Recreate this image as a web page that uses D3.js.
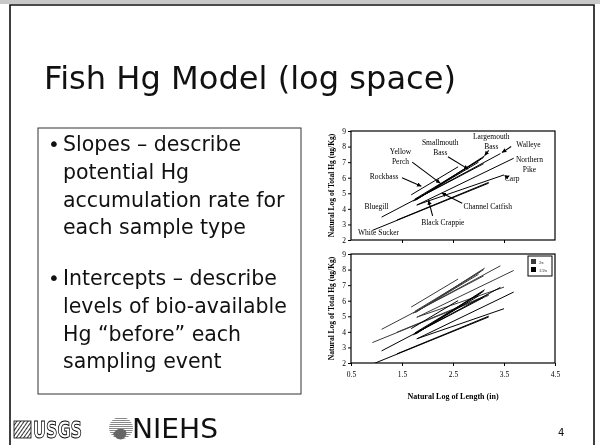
<!DOCTYPE html>
<html>
<head>
<meta charset="utf-8">
<script src="https://cdn.jsdelivr.net/npm/d3@7"></script>
<style>
  body { margin: 0; background: #fff; }
  #slide { filter: grayscale(1); }
  svg text { font-family: "DejaVu Sans", Verdana, sans-serif; }
  .chart text { font-family: "Liberation Serif", "Times New Roman", serif; }
</style>
</head>
<body>
<svg id="slide" width="600" height="445"></svg>
<script>
"use strict";

// ---- data ----
// regression lines per species, natural log space: ln(length) -> ln(Hg)
const species = ["White Sucker", "Carp", "Bluegill", "Rockbass", "Yellow Perch", "Smallmouth Bass",
  "Largemouth Bass", "Black Crappie", "Walleye", "Northern Pike", "Channel Catfish"];
const lineX0 = [0.92, 1.40, 1.10, 1.68, 1.75, 1.78, 1.76, 1.72, 1.76, 1.79, 1.79];
const lineY0 = [2.62, 3.28, 3.47, 4.90, 4.62, 4.58, 4.55, 4.50, 4.60, 4.24, 4.25];
const lineX1 = [3.20, 3.20, 3.10, 2.60, 3.10, 3.05, 3.12, 3.00, 3.43, 3.69, 3.50];
const lineY1 = [5.65, 5.70, 6.90, 6.70, 7.30, 7.20, 7.40, 7.00, 7.55, 7.25, 6.18];

// labels in the upper chart (first-line baseline, data coords)
const labelText = [["White Sucker"], ["Bluegill"], ["Rockbass"], ["Yellow", "Perch"], ["Smallmouth", "Bass"],
  ["Largemouth", "Bass"], ["Walleye"], ["Northern", "Pike"], ["Carp"], ["Channel Catfish"], ["Black Crappie"]];
const labelX = [1.04, 1.00, 1.15, 1.47, 2.25, 3.25, 3.98, 4.00, 3.66, 3.18, 2.30];
const labelY = [2.30, 4.00, 5.90, 7.50, 8.13, 8.50, 8.00, 7.00, 5.80, 3.97, 2.95];
// leader lines [x0, y0, x1, y1], null where the label has none
const leaders = [null, null, [1.50, 6.00, 1.88, 5.45], [1.70, 7.00, 2.25, 5.65], [2.40, 7.35, 2.80, 6.55],
  [3.20, 7.75, 3.12, 7.42], [3.64, 8.00, 3.46, 7.62], null, [3.58, 6.00, 3.51, 6.14],
  [2.68, 4.36, 2.28, 5.02], [2.10, 3.55, 2.02, 4.55]];

// lower chart: every line at 2x and 1/2x concentration
const legendLabels = ["2x", "1/2x"];
const legendColors = ["#3a3a3a", "#000"];
const shifts = [Math.LN2, -Math.LN2];

const xTicks = [0.5, 1.5, 2.5, 3.5, 4.5];
const yTicks = [2, 3, 4, 5, 6, 7, 8, 9];

const titleText = "Fish Hg Model (log space)";
const bullets = [
  ["Slopes \u2013 describe", "potential Hg", "accumulation rate for", "each sample type"],
  ["Intercepts \u2013 describe", "levels of bio-available", "Hg \u201cbefore\u201d each", "sampling event"]
];

// ---- slide ----
const svg = d3.select("#slide");

svg.append("rect").attr("width", 600).attr("height", 4).attr("fill", "#c8c8c8");
svg.append("path")
  .attr("d", "M10,460V5H594V460")
  .attr("fill", "none").attr("stroke", "#111").attr("stroke-width", 1.6);

svg.append("text")
  .attr("x", 44).attr("y", 89)
  .attr("font-size", 32)
  .attr("textLength", 412).attr("lengthAdjust", "spacingAndGlyphs")
  .attr("fill", "#111")
  .text(titleText);

// bullet box
svg.append("rect")
  .attr("x", 38).attr("y", 128).attr("width", 263).attr("height", 266)
  .attr("fill", "none").attr("stroke", "#333").attr("stroke-width", 1);

const bulletTop = [151, 285],
  lineGap = 27.8;
bullets.forEach((lines, b) => {
  svg.append("text").attr("x", 48).attr("y", bulletTop[b])
    .attr("font-size", 20).attr("fill", "#111").text("\u2022");
  lines.forEach((t, i) => {
    svg.append("text")
      .attr("x", 63).attr("y", bulletTop[b] + i * lineGap)
      .attr("font-size", 20.5).attr("fill", "#111")
      .text(t);
  });
});

// ---- charts ----
const plot = { left: 351, width: 204, height: 109 };
const x = d3.scaleLinear().domain([0.5, 4.5]).range([plot.left, plot.left + plot.width]);
const yTop = d3.scaleLinear().domain([2, 9]).range([240, 240 - plot.height]);
const yBot = d3.scaleLinear().domain([2, 9]).range([363, 363 - plot.height]);

const defs = svg.append("defs");
defs.append("marker")
  .attr("id", "arrow")
  .attr("viewBox", "0 0 6 6").attr("refX", 6).attr("refY", 3)
  .attr("markerWidth", 4).attr("markerHeight", 4)
  .attr("orient", "auto")
  .append("path").attr("d", "M0,0L6,3L0,6Z").attr("fill", "#000");

const chart = svg.append("g").attr("class", "chart");

function frame(y, id, xLabels) {
  const g = chart.append("g");
  g.append("clipPath").attr("id", id)
    .append("rect")
    .attr("x", x.range()[0]).attr("y", y.range()[1])
    .attr("width", plot.width).attr("height", plot.height);

  g.append("g")
    .attr("transform", "translate(" + x.range()[0] + ",0)")
    .call(d3.axisLeft(y).tickValues(yTicks).tickFormat(d3.format("d"))
      .tickSize(3).tickPadding(2).tickSizeOuter(0))
    .call(a => a.select(".domain").remove())
    .call(a => a.selectAll("text").attr("font-size", 7.5).attr("font-family", "Liberation Serif"));

  g.append("g")
    .attr("transform", "translate(0," + y.range()[0] + ")")
    .call(d3.axisBottom(x).tickValues(xLabels ? xTicks : xTicks.slice(1, 4))
      .tickSize(3).tickPadding(6).tickSizeOuter(0)
      .tickFormat(xLabels ? d3.format(".1f") : ""))
    .call(a => a.select(".domain").remove())
    .call(a => a.selectAll("text").attr("font-size", 7.5).attr("font-family", "Liberation Serif"));

  g.append("rect")
    .attr("x", x.range()[0]).attr("y", y.range()[1])
    .attr("width", plot.width).attr("height", plot.height)
    .attr("fill", "none").attr("stroke", "#000").attr("stroke-width", 1.2);

  g.append("text")
    .attr("transform", "translate(334," + (y.range()[0] + y.range()[1]) / 2 + ") rotate(-90)")
    .attr("text-anchor", "middle")
    .attr("font-size", 7.5).attr("font-weight", "bold")
    .text("Natural Log of Total Hg (ug/Kg)");
  return g;
}

// upper chart
const gTop = frame(yTop, "clip-top", false);
gTop.append("g").attr("clip-path", "url(#clip-top)")
  .selectAll("line").data(species).enter().append("line")
  .attr("x1", (d, i) => x(lineX0[i])).attr("y1", (d, i) => yTop(lineY0[i]))
  .attr("x2", (d, i) => x(lineX1[i])).attr("y2", (d, i) => yTop(lineY1[i]))
  .attr("stroke", "#000").attr("stroke-width", 1);

labelText.forEach((lines, i) => {
  const t = gTop.append("text")
    .attr("x", x(labelX[i])).attr("y", yTop(labelY[i]))
    .attr("text-anchor", "middle").attr("font-size", 7.5).attr("fill", "#000");
  lines.forEach((s, k) => {
    t.append("tspan").attr("x", x(labelX[i])).attr("dy", k ? 10 : 0).text(s);
  });
  const L = leaders[i];
  if (L) {
    gTop.append("line")
      .attr("x1", x(L[0])).attr("y1", yTop(L[1]))
      .attr("x2", x(L[2])).attr("y2", yTop(L[3]))
      .attr("stroke", "#000").attr("stroke-width", 1.1)
      .attr("marker-end", "url(#arrow)");
  }
});

// lower chart
const gBot = frame(yBot, "clip-bot", true);
shifts.forEach((s, k) => {
  gBot.append("g").attr("clip-path", "url(#clip-bot)")
    .selectAll("line").data(species).enter().append("line")
    .attr("x1", (d, i) => x(lineX0[i])).attr("y1", (d, i) => yBot(lineY0[i] + s))
    .attr("x2", (d, i) => x(lineX1[i])).attr("y2", (d, i) => yBot(lineY1[i] + s))
    .attr("stroke", legendColors[k]).attr("stroke-width", 1);
});

const leg = gBot.append("g")
  .attr("transform", "translate(" + (x.range()[1] - 27) + "," + (yBot.range()[1] + 2) + ")");
leg.append("rect").attr("width", 24).attr("height", 20)
  .attr("fill", "#fff").attr("stroke", "#000").attr("stroke-width", 1);
legendLabels.forEach((l, k) => {
  leg.append("rect").attr("x", 3).attr("y", 3 + k * 8).attr("width", 5).attr("height", 5)
    .attr("fill", legendColors[k]);
  leg.append("text").attr("x", 11).attr("y", 7.5 + k * 8)
    .attr("font-size", 4.5).attr("font-family", "Liberation Sans").text(l);
});

gBot.append("text")
  .attr("x", (x.range()[0] + x.range()[1]) / 2).attr("y", 399)
  .attr("text-anchor", "middle")
  .attr("font-size", 8).attr("font-weight", "bold")
  .text("Natural Log of Length (in)");

// ---- footer logos ----
const hatch = defs.append("pattern")
  .attr("id", "hatch").attr("width", 3).attr("height", 3)
  .attr("patternUnits", "userSpaceOnUse").attr("patternTransform", "rotate(35)");
hatch.append("rect").attr("width", 3).attr("height", 3).attr("fill", "#fff");
hatch.append("line").attr("x1", 0).attr("y1", 0).attr("x2", 0).attr("y2", 3)
  .attr("stroke", "#000").attr("stroke-width", 1.6);

const hatchH = defs.append("pattern")
  .attr("id", "hatchH").attr("width", 2).attr("height", 2)
  .attr("patternUnits", "userSpaceOnUse");
hatchH.append("rect").attr("width", 2).attr("height", 2).attr("fill", "#fff");
hatchH.append("rect").attr("width", 2).attr("height", 1).attr("fill", "#888");

svg.append("rect").attr("x", 14).attr("y", 421).attr("width", 17).attr("height", 17)
  .attr("fill", "url(#hatch)").attr("stroke", "#000").attr("stroke-width", 0.8);
svg.append("text").attr("x", 33).attr("y", 438)
  .attr("font-size", 23).attr("font-weight", "bold")
  .attr("textLength", 49).attr("lengthAdjust", "spacingAndGlyphs")
  .attr("fill", "#fff").attr("stroke", "#000").attr("stroke-width", 1)
  .text("USGS");

svg.append("ellipse").attr("cx", 121).attr("cy", 428).attr("rx", 12).attr("ry", 11)
  .attr("fill", "url(#hatchH)");
svg.append("path").attr("d", "M113,434 q5,-8 12,-4 q4,4 -2,9 q-6,2 -10,-5z").attr("fill", "#666");
svg.append("text").attr("x", 132).attr("y", 438)
  .attr("font-family", "Liberation Serif").attr("font-size", 27)
  .attr("textLength", 86).attr("lengthAdjust", "spacingAndGlyphs")
  .attr("fill", "#111").text("NIEHS");

svg.append("text").attr("x", 558).attr("y", 436)
  .attr("font-size", 10).attr("fill", "#111").text("4");
</script>
</body>
</html>
